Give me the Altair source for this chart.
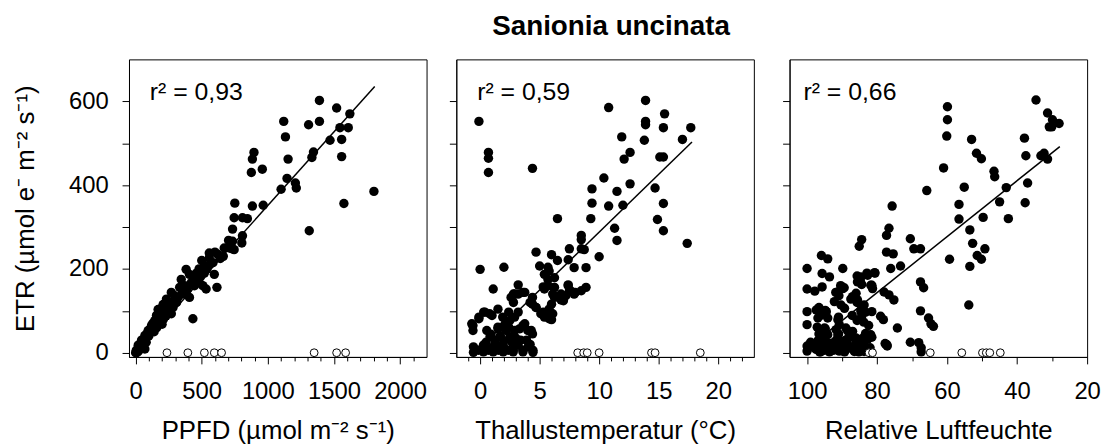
import altair as alt
import pandas as pd

FONT = "Liberation Sans"

# ---------------- Panel 1: PPFD vs ETR ----------------
p1_x = [1390,1520,1120,1308,1390,1620,1608,1545,1133,1470,1558,895,883,1153,1333,1345,1558,875,958,1145,
        1208,1100,1215,1802,750,883,965,1575,745,808,845,1313,733,703,808,803,733,
        745,708,670,733,663,557,557,500,520,595,640,382,407,495,345,483,508,533,615,420,445,333,358,270,
        295,320,233,258,407,283,270,183,195,170,433,200,145,120,95,70,45,20,5,0,70,170,208,158,
        600,620,480,460,440,370,300,245,220,130,110,85,60,35,25,15,10,50,80,100,60,520,540,455,390,350,
        310,280,250,230,210,190,160,140,30,8,20,560,585]
p1_y = [602,584,552,544,552,570,537,537,515,507,509,478,462,462,466,479,468,430,438,416,
        405,390,393,385,357,350,352,356,322,322,320,291,295,268,279,262,248,
        246,250,250,266,230,238,226,220,207,187,225,199,187,183,175,167,160,152,156,167,160,156,148,144,
        136,132,128,120,132,108,93,104,93,85,81,68,77,65,53,41,30,18,6,0,9,103,115,89,
        240,235,200,190,175,160,125,110,95,70,55,45,30,20,12,5,2,20,25,40,15,190,200,170,150,140,
        120,112,100,88,80,75,60,50,8,0,3,210,215]
p1_open_x = [237,395,520,595,650,1350,1520,1588]
p1_line_x = [0, 1808]
p1_line_y = [0, 635]

# ---------------- Panel 2: Thallustemperatur vs ETR ----------------
p2_x = [13.9,10.8,15.5,-0.1,13.9,13.9,15.4,17.7,11.9,13.8,17.0,0.7,0.7,12.6,12.1,15.1,15.4,0.7,4.4,10.4,
        12.6,9.4,11.5,14.7,9.4,10.8,12.0,15.4,6.5,9.3,14.9,11.3,15.4,8.5,8.5,11.5,17.4,4.7,6.0,7.5,
        8.5,8.75,10.0,6.5,7.4,5.0,5.7,5.8,5.4,5.7,7.9,8.9,0.0,2.0,6.25,6.25,5.4,7.4,7.6,7.9,
        8.5,8.9,1.1,3.2,2.8,3.2,3.75,4.4,4.7,4.4,6.25,6.0,5.8,5.6,6.0,6.8,6.8,5.1,5.4,1.5,
        2.4,1.9,2.5,2.1,1.5,2.4,0.3,-0.1,-0.6,-0.6,1.0,2.9,3.2,3.75,4.3,
        2.9,3.6,2.6,2.8,4.2,4.7,5.3,6.1,5.8,-0.7,-0.1,0.4,0.8,1.5,1.9,2.2,0.56,0.83,1.25,1.67,
        2.5,2.9,3.3,3.6,4.0,4.4,7.4,7.5,8.0,6.2,6.1,6.7,7.0,7.2,5.7,5.3,
        -0.56,-0.14,0.28,0.69,1.1,1.53,1.94,2.36,2.78,3.19,3.6,4.03,4.44,0.28,1.1,1.94,2.78,3.6,4.44,-0.56,
        0.5,1.3,2.0,2.7,3.4,0.9,1.7,3.0,3.9,4.2]
p2_y = [602,585,570,552,552,544,537,537,515,507,509,478,464,478,462,467,467,430,440,417,
        403,391,385,393,357,350,352,356,320,320,318,297,291,280,270,268,261,240,234,248,
        248,246,229,220,222,207,204,195,187,175,203,203,199,204,179,156,152,162,148,140,
        148,156,152,162,140,140,144,116,108,132,132,116,104,93,79,126,140,93,85,104,
        97,85,77,69,61,61,97,85,65,53,89,85,97,69,53,
        140,144,132,120,120,108,97,93,81,69,81,97,93,57,61,53,53,38,30,38,
        38,53,57,65,53,45,160,148,144,155,140,132,124,136,160,157,
        14,6,18,6,14,6,18,6,6,18,6,14,6,2,2,2,2,2,1,1,
        25,22,28,24,30,44,40,35,30,20]
p2_open_x = [8.2,8.7,9.0,10.0,14.4,14.7,18.5]
p2_line_x = [-0.5, 17.8]
p2_line_y = [-2, 503]

# ---------------- Panel 3: Relative Luftfeuchte vs ETR ----------------
p3_x = [34.6,59.9,31.3,59.9,29.9,28.0,30.8,30.1,60.1,53.0,37.9,37.5,51.6,50.2,33.2,32.3,31.3,61.0,46.6,46.4,
        43.1,55.1,65.8,37.0,45.0,37.7,75.7,56.6,56.6,49.7,42.5,53.5,76.6,77.3,70.5,69.5,67.6,52.7,84.4,85.1,
        77.3,75.4,51.4,50.2,49.2,59.3,73.3,76.1,53.5,95.9,94.1,100,95.7,93.6,89.8,80.7,84.6,82.7,85.6,67.6,
        66.7,100,97.8,95.7,91.2,89.8,87.0,86.0,81.8,81.3,78.0,76.6,75.2,92.2,90.3,89.3,85.6,83.7,84.6,53.8,
        100,100,97.4,96.9,94.5,94.1,91.2,90.8,95,94.1,91.7,91.2,88.9,87.0,84.6,84.4,81.5,79,78.2,74.2,
        67.6,65.3,64.6,63.9,81.8,82.7,77.5,77.1,70.5,68.1,67.4,67.4,
        100,100,97.4,96.4,95,93.6,92.2,90.8,89.3,88.4,86.5,85.1,83.7,98,96,93,90,87,99,97,95,92,89,86,84,82,88,86,
        85.7,84.8,82.9,80.6,84.4,81.5,90.4,89.4,91.8,90.9,87.5,85.7,96.6,96.2,94.8,97.1,94.8,96.6,94.3,
        91,88.5,91,87.1,83.3,85.7,83.8,82.4,83.3,81.9,84.2,81.5,77.7,77.2,
        99.8,97.4,96.2,94.3,92.4,91,89.4,87.1,85.2,83.3,85.7,93.3,88.5,91.3]
p3_y = [603,587,572,556,556,547,539,539,517,509,512,470,476,463,470,476,462,441,433,420,
        394,395,387,405,360,358,350,354,319,323,320,293,297,280,272,248,248,261,270,254,
        240,236,232,223,248,223,207,201,206,232,224,201,189,181,201,191,181,185,169,169,
        155,152,147,157,145,153,134,142,161,153,145,138,126,122,114,106,126,114,102,114,
        98,67,102,83,98,83,79,67,59,43,55,43,59,51,98,87,98,87,79,59,
        100,83,69,63,43,32,20,16,25,24,12,2,
        16,4,8,2,6,2,10,4,2,10,3,8,3,12,14,15,18,14,25,28,30,27,30,24,20,12,40,35,
        183,171,190,190,163,161,160,155,144,136,128,120,108,89,101,61,57,45,45,
        85,53,45,89,97,77,73,65,46,42,34,37,22,19,
        14,22,2,14,6,22,6,14,2,10,22,22,30,34]
p3_open_x = [82.3,81.3,64.8,55.8,49.9,48.8,47.8,44.8]
p3_line_x = [100, 27.8]
p3_line_y = [10, 492]

y_ticks = [0, 100, 200, 300, 400, 500, 600]
x1_ticks = list(range(0, 2101, 100))
x2_ticks = list(range(-1, 23))
x3_ticks = list(range(20, 101, 10))

r2_labels = ["r² = 0,93", "r² = 0,59", "r² = 0,66"]
x_titles = ["PPFD (µmol m⁻² s⁻¹)", "Thallustemperatur (°C)", "Relative Luftfeuchte"]
y_title = "ETR (µmol e⁻ m⁻² s⁻¹)"
main_title = "Sanionia uncinata"

W, H = 300, 300


def panel(px, py, ox, lx, ly, xdomain, xticks, major, xtitle, r2, r2x, first, reverse=False, title=None):
    pts = pd.DataFrame({"x": px, "y": py})
    opn = pd.DataFrame({"x": ox, "y": [0] * len(ox)})
    ln = pd.DataFrame({"x": lx, "y": ly})
    xaxis = alt.Axis(
        values=xticks, format="d", title=xtitle,
        labelExpr=f"datum.value % {major} === 0 ? datum.label : ''",
        tickSize={"condition": {"test": f"datum.value % {major} === 0", "value": 7}, "value": 4},
        labelPadding=16, titlePadding=14, labelFlush=False, labelOverlap=False,
    )
    if first:
        yaxis = alt.Axis(values=y_ticks, format="d", title=y_title,
                         labelExpr="datum.value % 200 === 0 ? datum.label : ''",
                         tickSize=7, labelPadding=14, titlePadding=30,
                         labelFlush=False, labelOverlap=False)
    else:
        yaxis = alt.Axis(values=y_ticks, labels=False, title=None, tickSize=7)
    xs = alt.Scale(domain=xdomain, nice=False, zero=False, reverse=reverse)
    ys = alt.Scale(domain=[-10, 700], nice=False, zero=False)
    X = alt.X("x:Q", scale=xs, axis=xaxis)
    Y = alt.Y("y:Q", scale=ys, axis=yaxis)
    filled = alt.Chart(pts).mark_circle(size=90, color="black", opacity=1).encode(x=X, y=Y)
    opens = alt.Chart(opn).mark_point(shape="circle", size=62, filled=True, fill="white",
                                      stroke="black", strokeWidth=1, opacity=1).encode(x=X, y=Y)
    line = alt.Chart(ln).mark_line(color="black", strokeWidth=1.5).encode(x=X, y=Y)
    txt = alt.Chart(pd.DataFrame({"t": [r2]})).mark_text(
        align="left", baseline="alphabetic", fontSize=25, font=FONT, color="black"
    ).encode(x=alt.value(r2x), y=alt.value(41), text="t:N")
    layers = [filled, line, opens, txt]
    if title:
        layers.append(alt.Chart(pd.DataFrame({"t": [title]})).mark_text(
            align="center", baseline="alphabetic", fontSize=28, fontWeight="bold", font=FONT, color="black"
        ).encode(x=alt.value(156), y=alt.value(-25), text="t:N"))
    return alt.layer(*layers).properties(width=W, height=H)


c1 = panel(p1_x, p1_y, p1_open_x, p1_line_x, p1_line_y, [-50, 2200], x1_ticks, 500,
           x_titles[0], r2_labels[0], 21, True)
c2 = panel(p2_x, p2_y, p2_open_x, p2_line_x, p2_line_y, [-2, 23], x2_ticks, 5,
           x_titles[1], r2_labels[1], 21, False, title=main_title)
c3 = panel(p3_x, p3_y, p3_open_x, p3_line_x, p3_line_y, [20, 105], x3_ticks, 20,
           x_titles[2], r2_labels[2], 14, False, reverse=True)

chart = alt.hconcat(alt.hconcat(c1, c2, spacing=21), c3, spacing=27).properties(
    padding={"left": 4, "top": 2, "right": 0, "bottom": 0}
).configure_axis(
    labelFont=FONT, titleFont=FONT, labelFontSize=24, titleFontSize=26, titleFontWeight="normal",
    domainColor="black", tickColor="black", labelColor="black", titleColor="black",
    grid=False, domainWidth=1, tickWidth=1,
).configure_view(stroke="black", strokeWidth=1)

chart.save("out.html", embed_options={"renderer": "svg", "actions": False})
